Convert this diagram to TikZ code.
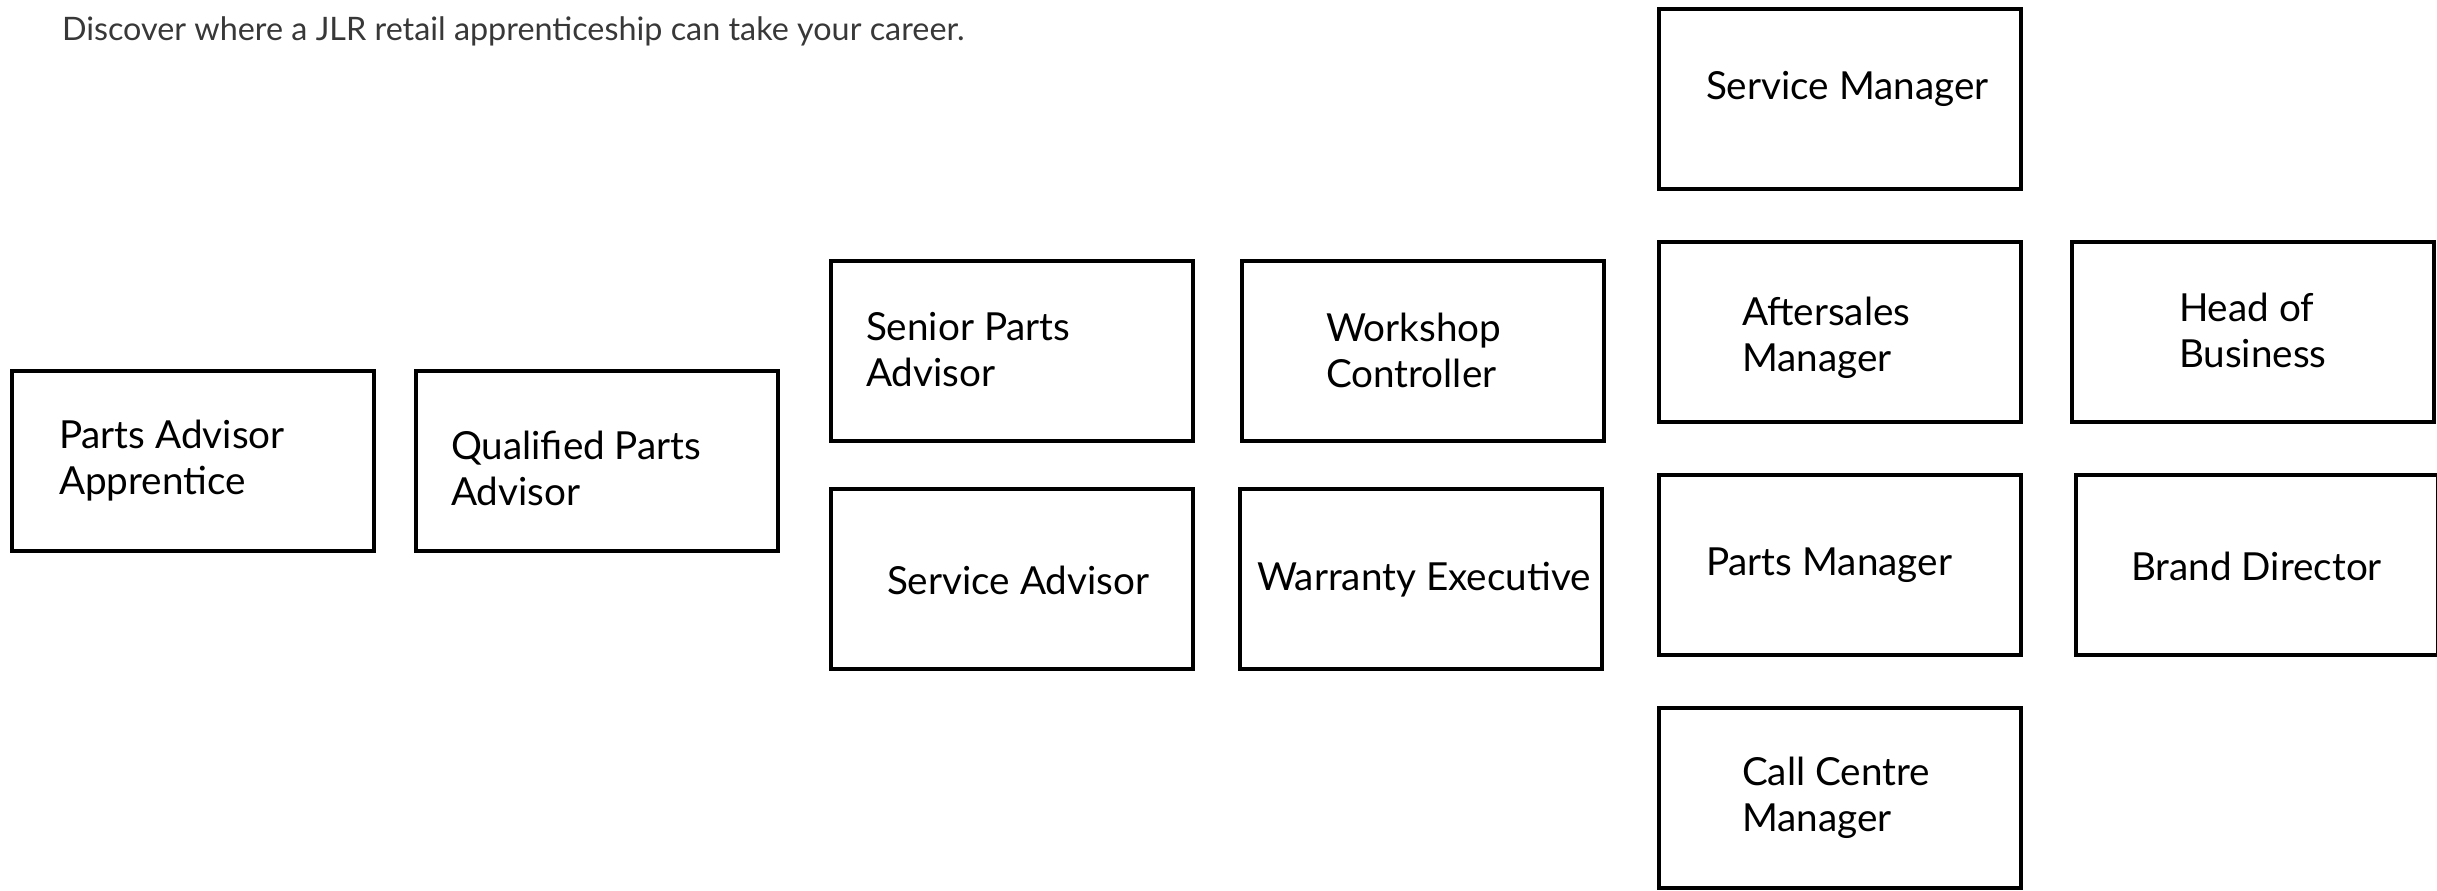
\documentclass[tikz,border=0pt]{standalone}
\usepackage{fontspec}
\setmainfont{Lato}
\begin{document}
\begin{tikzpicture}[x=0.10mm, y=-0.10mm, inner xsep=0pt, inner ysep=0pt, outer xsep=0pt, outer ysep=0pt,
  role/.style={line width=0.45mm, draw=L, minimum width=36.2mm, minimum height=18.0mm},
  rolename/.style={anchor=west, align=left, text=L, font=\fontsize{11}{13.1}\selectfont}]
\useasboundingbox (0,0) rectangle (2437,890);
\definecolor{L}{rgb}{0,0,0}
\definecolor{T}{rgb}{0.22,0.22,0.22}
\draw(62,31) node[anchor=west, text=T, font=\fontsize{9.2}{11}\selectfont] (intro) {Discover where a JLR retail apprenticeship can take your career.};
% first steps
\path (193,461) node[role] (paa) {};
\path (597,461) node[role] (qpa) {};
\draw(59,461) node[rolename] (paatext) {Parts Advisor\\Apprentice};
\draw(451,468) node[rolename] (qpatext) {Qualified Parts\\Advisor};
% advisors and controllers
\path (1012,351) node[role] (spa) {};
\path (1423,351) node[role] (wc) {};
\path (1012,579) node[role] (sa) {};
\path (1421,579) node[role] (we) {};
\draw(866,350) node[rolename] (spatext) {Senior Parts\\Advisor};
\draw(1326,350) node[rolename] (wctext) {Workshop\\Controller};
\draw(887,580) node[rolename] (satext) {Service Advisor};
\draw(1257,580) node[rolename] (wetext) {Warranty Executive};
% managers
\path (1840,99) node[role] (sm) {};
\path (1840,332) node[role] (am) {};
\path (1840,565) node[role] (pm) {};
\path (1840,798) node[role] (ccm) {};
\draw(1706,89) node[rolename] (smtext) {Service Manager};
\draw(1742,338) node[rolename] (amtext) {Aftersales\\Manager};
\draw(1706,565) node[rolename] (pmtext) {Parts Manager};
\draw(1742,798) node[rolename] (ccmtext) {Call Centre\\Manager};
% top of the ladder
\path (2253,332) node[role] (hob) {};
\path (2257,565) node[role] (bd) {};
\draw(2179,330) node[rolename] (hobtext) {Head of\\Business};
\draw(2131,566) node[rolename] (bdtext) {Brand Director};
\end{tikzpicture}
\end{document}
